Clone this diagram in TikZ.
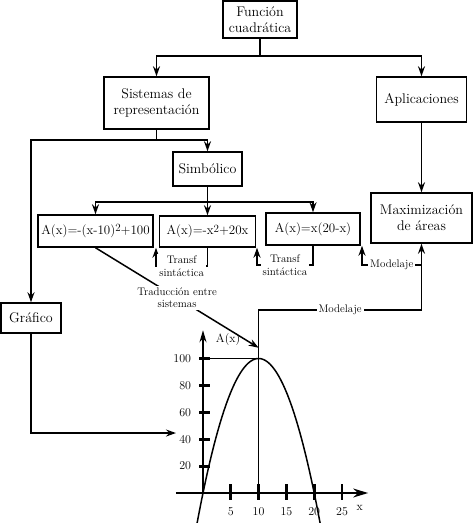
\documentclass[tikz,border=0pt]{standalone}
\usepackage{tikz}
\usetikzlibrary{arrows.meta}

\begin{document}
\begin{tikzpicture}[x=1pt,y=-1pt,
		kasten/.style={draw, line width=1.5pt, align=center, inner sep=0pt, font=\fontsize{14}{16}\selectfont},
		formel/.style={kasten, font=\fontsize{13}{15}\selectfont},
		linie/.style={line width=1.5pt},
		pfeil/.style={line width=1.5pt, -{Stealth[length=10pt,width=7pt]}},
		etikett/.style={fill=white, inner sep=2pt, align=center, font=\fontsize{11}{12.5}\selectfont},
		zahl/.style={font=\fontsize{12}{14}\selectfont}]
		\useasboundingbox (0,0) rectangle (474,523);

		% Kaesten
		\node[kasten, minimum width=74pt, minimum height=37pt] (fq) at (260,19.5) {Función\\cuadrática};
		\node[kasten, minimum width=105pt, minimum height=52pt] (sr) at (156.5,103) {Sistemas de\\representación};
		\node[kasten, minimum width=90pt, minimum height=45pt] (ap) at (421.5,99.5) {Aplicaciones};
		\node[kasten, minimum width=69pt, minimum height=34pt] (si) at (207.5,169) {Simbólico};
		\node[kasten, minimum width=60pt, minimum height=30pt] (gr) at (31,318) {Gráfico};
		\node[formel, minimum width=115pt, minimum height=32pt] (f1) at (95.5,231) {A(x)=-(x-10)\raisebox{0.5ex}{\fontsize{11}{13}\selectfont 2}+100};
		\node[formel, minimum width=96pt, minimum height=31pt] (f2) at (207.5,231.5) {A(x)=-x\raisebox{0.5ex}{\fontsize{11}{13}\selectfont 2}+20x};
		\node[formel, minimum width=94pt, minimum height=32pt] (f3) at (313,229) {A(x)=x(20-x)};
		\node[kasten, minimum width=101pt, minimum height=50pt] (ma) at (421.5,218) {Maximización\\de áreas};

		% Graph
		\begin{scope}[shift={(203,493)}, x=5.56pt, y=1.345pt]
			\coordinate (sp) at (10,100);
			\coordinate (tr) at (10,108);
			\coordinate (ge) at (-4.86,44.6);

			\draw[linie, -{Stealth[length=15pt,width=9pt]}] (-4.9,0) -- (29.7,0);
			\draw[linie, -{Stealth[length=12pt,width=7pt]}] (0,0) -- (0,121);
			\foreach \i in {5,10,...,25}
				\draw[line width=2.8pt] (\i,-5) -- (\i,7) node[zahl] at (\i,-14) {\i};
			\foreach \j in {20,40,...,100}
				\draw[line width=2.8pt] (-0.7,\j) -- (1.3,\j) node[zahl, anchor=east] at (-1.3,\j) {\j};

			\draw[line width=1.2pt] (0,100) -- (sp) -- (10,0);
			\draw[linie] plot[domain=-1.06:21.06, samples=80] (\x, {100-(\x-10)^2});

			\node[zahl] (ax) at (4.5,114) {A(x)};
			\node[zahl] (xl) at (28.2,-11) {x};
		\end{scope}

		% Verbindungen
		\coordinate (k1) at (260,56);
		\draw[linie] (fq.south) -- (k1);
		\draw[pfeil] (k1) -| (sr.north);
		\draw[pfeil] (k1) -| (ap.north);

		\coordinate (k2) at (156.5,140);
		\draw[linie] (sr.south) -- (k2);
		\draw[pfeil] (k2) -| (si.north);
		\draw[pfeil] (k2) -| (gr.north);

		\coordinate (k3) at (207.5,202);
		\draw[linie] (si.south) -- (k3);
		\draw[pfeil] (k3) -| (f1.north);
		\draw[pfeil] (k3) -- (f2.north);
		\draw[pfeil] (k3) -| (f3.north);

		\draw[pfeil] (ap.south) -- (ma.north);

		% Transformationen
		\coordinate (t1) at (156,266);
		\draw[pfeil] (f2.south) -- (f2.south |- t1) -- node[etikett]{Transf\\sintáctica} (t1) -- (t1 |- f1.south);
		\coordinate (t2) at (257,265);
		\draw[pfeil] (f3.south) -- (f3.south |- t2) -- node[etikett]{Transf\\sintáctica} (t2) -- (t2 |- f2.south);

		% Modelaje
		\coordinate (m1) at (421.5,265);
		\coordinate (m2) at (362,265);
		\draw[pfeil] (m1) -- node[etikett]{Modelaje} (m2) -- (m2 |- f3.south);
		\coordinate (m3) at (421.5,310);
		\draw[pfeil] (sp) -- (sp |- m3) -- node[etikett]{Modelaje} (m3) -- (ma.south);

		\draw[pfeil] (f1.south) -- node[etikett]{Traducción entre\\sistemas} (tr);
		\draw[pfeil] (gr.south) |- (ge);
	\end{tikzpicture}
\end{document}
